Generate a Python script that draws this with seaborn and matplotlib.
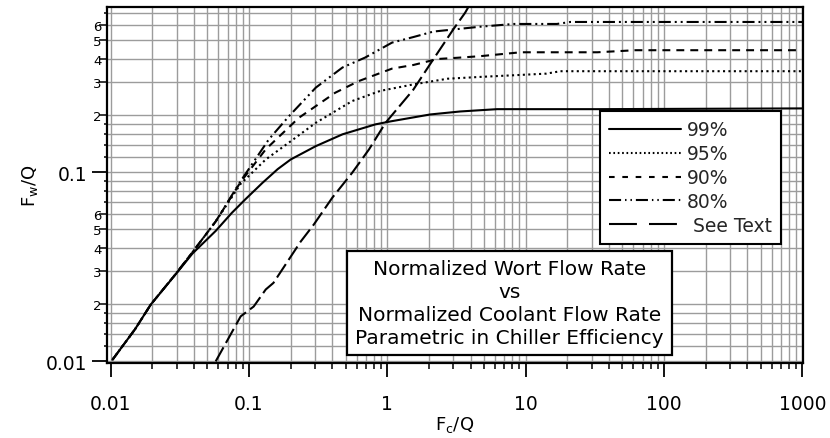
import matplotlib
matplotlib.use("Agg")
import matplotlib.pyplot as plt
import pandas as pd
import seaborn as sns
from matplotlib.ticker import FixedLocator, FixedFormatter, NullFormatter
from matplotlib.lines import Line2D

# ---------------- data ----------------
series_names = ["99%", "95%", "90%", "80%", "See Text"]

x_99 = [0.0103, 0.015, 0.0195, 0.0295, 0.039, 0.0574, 0.075, 0.094, 0.125, 0.161, 0.2,
        0.304, 0.474, 0.82, 1.05, 2.04, 3.36, 6.2, 33, 1000]
y_99 = [0.0102, 0.0148, 0.020, 0.0289, 0.0372, 0.049, 0.061, 0.072, 0.088, 0.104, 0.117,
        0.1377, 0.159, 0.1795, 0.186, 0.2025, 0.21, 0.216, 0.216, 0.218]

x_95 = [0.0103, 0.015, 0.0195, 0.0295, 0.039, 0.0574, 0.087, 0.132, 0.194, 0.304,
        0.557, 0.89, 1.08, 1.54, 2.72, 4.7, 14.1, 17.8, 1000]
y_95 = [0.0102, 0.0148, 0.020, 0.029, 0.0378, 0.055, 0.087, 0.117, 0.1437, 0.183,
        0.2385, 0.27, 0.2775, 0.292, 0.313, 0.32, 0.333, 0.343, 0.343]

x_90 = [0.0103, 0.015, 0.0195, 0.0295, 0.039, 0.0574, 0.087, 0.132, 0.229, 0.42,
        0.62, 1.08, 1.54, 2.3, 3.2, 4.7, 9.2, 33, 62, 1000]
y_90 = [0.0102, 0.0148, 0.020, 0.029, 0.0378, 0.055, 0.089, 0.1324, 0.1944, 0.264,
        0.304, 0.354, 0.37, 0.398, 0.404, 0.412, 0.432, 0.432, 0.443, 0.443]

x_80 = [0.0103, 0.015, 0.0195, 0.0295, 0.039, 0.0574, 0.087, 0.139, 0.194, 0.304,
        0.474, 0.69, 1.08, 1.54, 2.15, 4.7, 8.2, 16.8, 21, 1000]
y_80 = [0.0102, 0.0148, 0.020, 0.029, 0.0378, 0.055, 0.090, 0.1495, 0.198, 0.281,
        0.359, 0.405, 0.486, 0.52, 0.556, 0.59, 0.61, 0.61, 0.625, 0.625]

x_see = [0.0574, 0.087, 0.108, 0.132, 0.15, 0.236, 0.294, 0.40, 0.557, 0.737,
         0.97, 1.54, 2.15, 3.0, 3.65, 3.85]
y_see = [0.0100, 0.0173, 0.0195, 0.024, 0.026, 0.043, 0.053, 0.0735, 0.0996, 0.1324,
         0.183, 0.274, 0.397, 0.572, 0.70, 0.75]

x_major = [0.01, 0.1, 1, 10, 100, 1000]
x_major_labels = ["0.01", "0.1", "1", "10", "100", "1000"]
x_minor_mult = [2, 3, 4, 5, 6, 7, 8, 9]

y_major = [0.01, 0.1]
y_major_labels = ["0.01", "0.1"]
y_minor = [0.012, 0.014, 0.016, 0.018, 0.02, 0.03, 0.04, 0.05, 0.06, 0.07, 0.08, 0.09,
           0.12, 0.14, 0.16, 0.18, 0.2, 0.3, 0.4, 0.5, 0.6, 0.7]
y_minor_labels = ["", "", "", "", "2", "3", "4", "5", "6", "", "", "",
                  "", "", "", "", "2", "3", "4", "5", "6", ""]

legend_labels = ["99%", "95%", "90%", "80%", " See Text"]
box_text = ("Normalized Wort Flow Rate\nvs\nNormalized Coolant Flow Rate\n"
            "Parametric in Chiller Efficiency")

# ---------------- styles ----------------
sns.set_style("ticks")
plt.rcParams["font.family"] = ["DejaVu Sans"]
plt.rcParams["mathtext.default"] = "regular"

plot_dashes = {"99%": "", "95%": (1.0, 1.6), "90%": (3.8, 2.9),
               "80%": (5.8, 1.9, 0.95, 1.9, 0.95, 1.9), "See Text": (7.7, 2.4)}
legend_dashes = {"99%": "-", "95%": (0, (0.8, 1.3)), "90%": (0, (2.7, 3.7)),
                 "80%": (0, (5.8, 1.9, 0.7, 1.9, 0.7, 1.9)), "See Text": (0, (13.4, 5.8))}

frames = []
for name, xs, ys in zip(series_names, [x_99, x_95, x_90, x_80, x_see],
                        [y_99, y_95, y_90, y_80, y_see]):
    frames.append(pd.DataFrame({"x": xs, "y": ys, "series": name}))
df = pd.concat(frames, ignore_index=True)

fig = plt.figure(figsize=(8.3, 4.39), dpi=100)
ax = fig.add_axes([107 / 830, 1 - 364 / 439, 696 / 830, 356 / 439])
ax.set_xscale("log")
ax.set_yscale("log")

sns.lineplot(data=df, x="x", y="y", hue="series", style="series",
             hue_order=series_names, style_order=series_names,
             palette={n: "black" for n in series_names}, dashes=plot_dashes,
             sort=False, estimator=None, linewidth=1.5, legend=False, ax=ax)

ax.set_xlim(0.0094, 1010)
ax.set_ylim(0.0098, 0.75)

# x ticks
x_minor = [m * d for d in x_major[:-1] for m in x_minor_mult]
ax.xaxis.set_major_locator(FixedLocator(x_major))
ax.xaxis.set_major_formatter(FixedFormatter(x_major_labels))
ax.xaxis.set_minor_locator(FixedLocator(x_minor))
ax.xaxis.set_minor_formatter(NullFormatter())
# y ticks
ax.yaxis.set_major_locator(FixedLocator(y_major))
ax.yaxis.set_major_formatter(FixedFormatter(y_major_labels))
ax.yaxis.set_minor_locator(FixedLocator(y_minor))
ax.yaxis.set_minor_formatter(FixedFormatter(y_minor_labels))

ax.tick_params(axis="x", which="major", direction="out", length=10, width=1.3,
               labelsize=13.5, pad=12, color="black", labelcolor="black")
ax.tick_params(axis="x", which="minor", direction="out", length=4.5, width=1.1,
               color="black")
ax.tick_params(axis="y", which="major", direction="out", length=10.5, width=1.3,
               labelsize=13.5, pad=3.5, color="black", labelcolor="black")
ax.tick_params(axis="y", which="minor", direction="out", length=2.5, width=1.1,
               labelsize=9.5, pad=1.5, color="black", labelcolor="black")
for tick, lab in zip(ax.yaxis.get_minor_ticks(), y_minor_labels):
    if lab:
        tick.tick1line.set_markersize(5.5)

ax.grid(which="both", color="#9c9c9c", linewidth=1.0)
ax.set_axisbelow(True)
for sp in ax.spines.values():
    sp.set_visible(True)
    sp.set_color("black")
    sp.set_linewidth(1.6)

ax.set_xlabel("F$_{c}$/Q", fontsize=13, labelpad=1, color="black")
ax.set_ylabel("F$_{w}$/Q", fontsize=13, color="black")
ax.yaxis.set_label_coords(-0.096, 0.5)

# legend (proxy handles styled like the reference legend)
handles = [Line2D([], [], color="black", linewidth=1.5, linestyle=legend_dashes[n])
           for n in series_names]
leg = ax.legend(handles, legend_labels, loc="upper left", bbox_to_anchor=(0.708, 0.708),
                frameon=True, fancybox=False, edgecolor="black", framealpha=1,
                facecolor="white", fontsize=13.5, handlelength=3.85, handletextpad=0.3,
                labelspacing=0.26, borderpad=0.5, borderaxespad=0)
leg.get_frame().set_linewidth(1.5)
leg.set_zorder(10)

ax.text(0.578, 0.1685, box_text, transform=ax.transAxes, ha="center", va="center",
        ma="center", fontsize=14.5, color="black", zorder=6, linespacing=1.25,
        bbox=dict(boxstyle="square,pad=0.4", fc="white", ec="black", lw=1.6))

fig.savefig("out.png", dpi=100)
